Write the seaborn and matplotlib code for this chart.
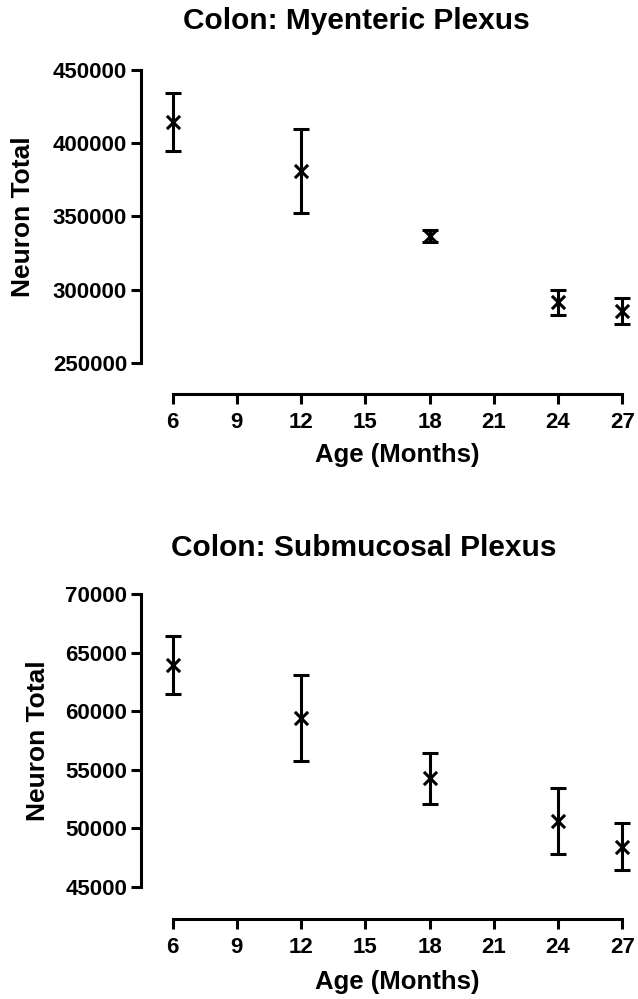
import numpy as np
import pandas as pd
import seaborn as sns
import matplotlib
matplotlib.use("Agg")
import matplotlib.pyplot as plt

# Данные
age_months = [6, 12, 18, 24, 27]
myenteric_mean = [414500, 381000, 336800, 291300, 285300]
myenteric_err = [20000, 28500, 4000, 8500, 8800]
submucosal_mean = [63900, 59400, 54250, 50600, 48420]
submucosal_err = [2480, 3640, 2170, 2840, 2000]
x_ticks = [6, 9, 12, 15, 18, 21, 24, 27]

sns.set_style("ticks")
plt.rcParams['font.family'] = ['Liberation Sans', 'DejaVu Sans']
plt.rcParams['font.weight'] = 'bold'
for key in ["text.color", "axes.labelcolor", "xtick.color", "ytick.color",
            "axes.edgecolor"]:
    plt.rcParams[key] = "black"


def Draw_panel(ax, means, errs, yticks, ybottom, ylab_x, xlab_y):
    df = pd.DataFrame({"age": age_months, "total": means, "err": errs})
    eb = ax.errorbar(df["age"], df["total"], yerr=df["err"], fmt="none",
                     ecolor="black", elinewidth=2.2, capsize=6, capthick=2.2)
    for art in eb.lines[1] + eb.lines[2]:
        art.set_clip_on(False)
    sns.scatterplot(data=df, x="age", y="total", marker="x", s=90,
                    color="black", linewidth=2.2, ax=ax, zorder=3,
                    clip_on=False)
    # Оси в стиле Prism: разнесённые линии
    ax.set_xlim(4.52, 27)
    ax.set_ylim(ybottom, yticks[-1])
    ax.set_xticks(x_ticks)
    ax.set_yticks(yticks)
    ax.spines["left"].set_bounds(yticks[0], yticks[-1])
    ax.spines["bottom"].set_bounds(6, 27)
    for s in ["top", "right"]:
        ax.spines[s].set_visible(False)
    for s in ["left", "bottom"]:
        ax.spines[s].set_linewidth(2.2)
        ax.spines[s].set_clip_on(False)
    ax.tick_params(axis="both", width=2.2, length=7, labelsize=16,
                   direction="out", colors="black")
    ax.tick_params(axis="y", pad=3)
    ax.tick_params(axis="x", pad=6)
    for lab in ax.get_xticklabels() + ax.get_yticklabels():
        lab.set_fontweight("bold")
    ax.set_xlabel("Age (Months)", fontsize=18.5, fontweight="bold")
    ax.set_ylabel("Neuron Total", fontsize=19, fontweight="bold")
    ax.xaxis.set_label_coords(0.533, xlab_y)
    ax.yaxis.set_label_coords(ylab_x, 0.548)


fig = plt.figure(figsize=(6.38, 9.99), dpi=100)
ax1 = fig.add_axes([0.221, 0.6056, 0.7544, 0.3243])
ax2 = fig.add_axes([0.221, 0.0798, 0.7544, 0.3256])

Draw_panel(ax1, myenteric_mean, myenteric_err,
           [250000, 300000, 350000, 400000, 450000], 228600, -0.22, -0.15)
Draw_panel(ax2, submucosal_mean, submucosal_err,
           [45000, 50000, 55000, 60000, 65000, 70000], 42215, -0.189, -0.155)

fig.text(356 / 638, 1 - 21 / 999, "Colon: Myenteric Plexus", ha="center",
         va="center", fontsize=21.5, fontweight="bold")
fig.text(364 / 638, 1 - 548 / 999, "Colon: Submucosal Plexus", ha="center",
         va="center", fontsize=21.5, fontweight="bold")

fig.savefig("out.png", dpi=100)
